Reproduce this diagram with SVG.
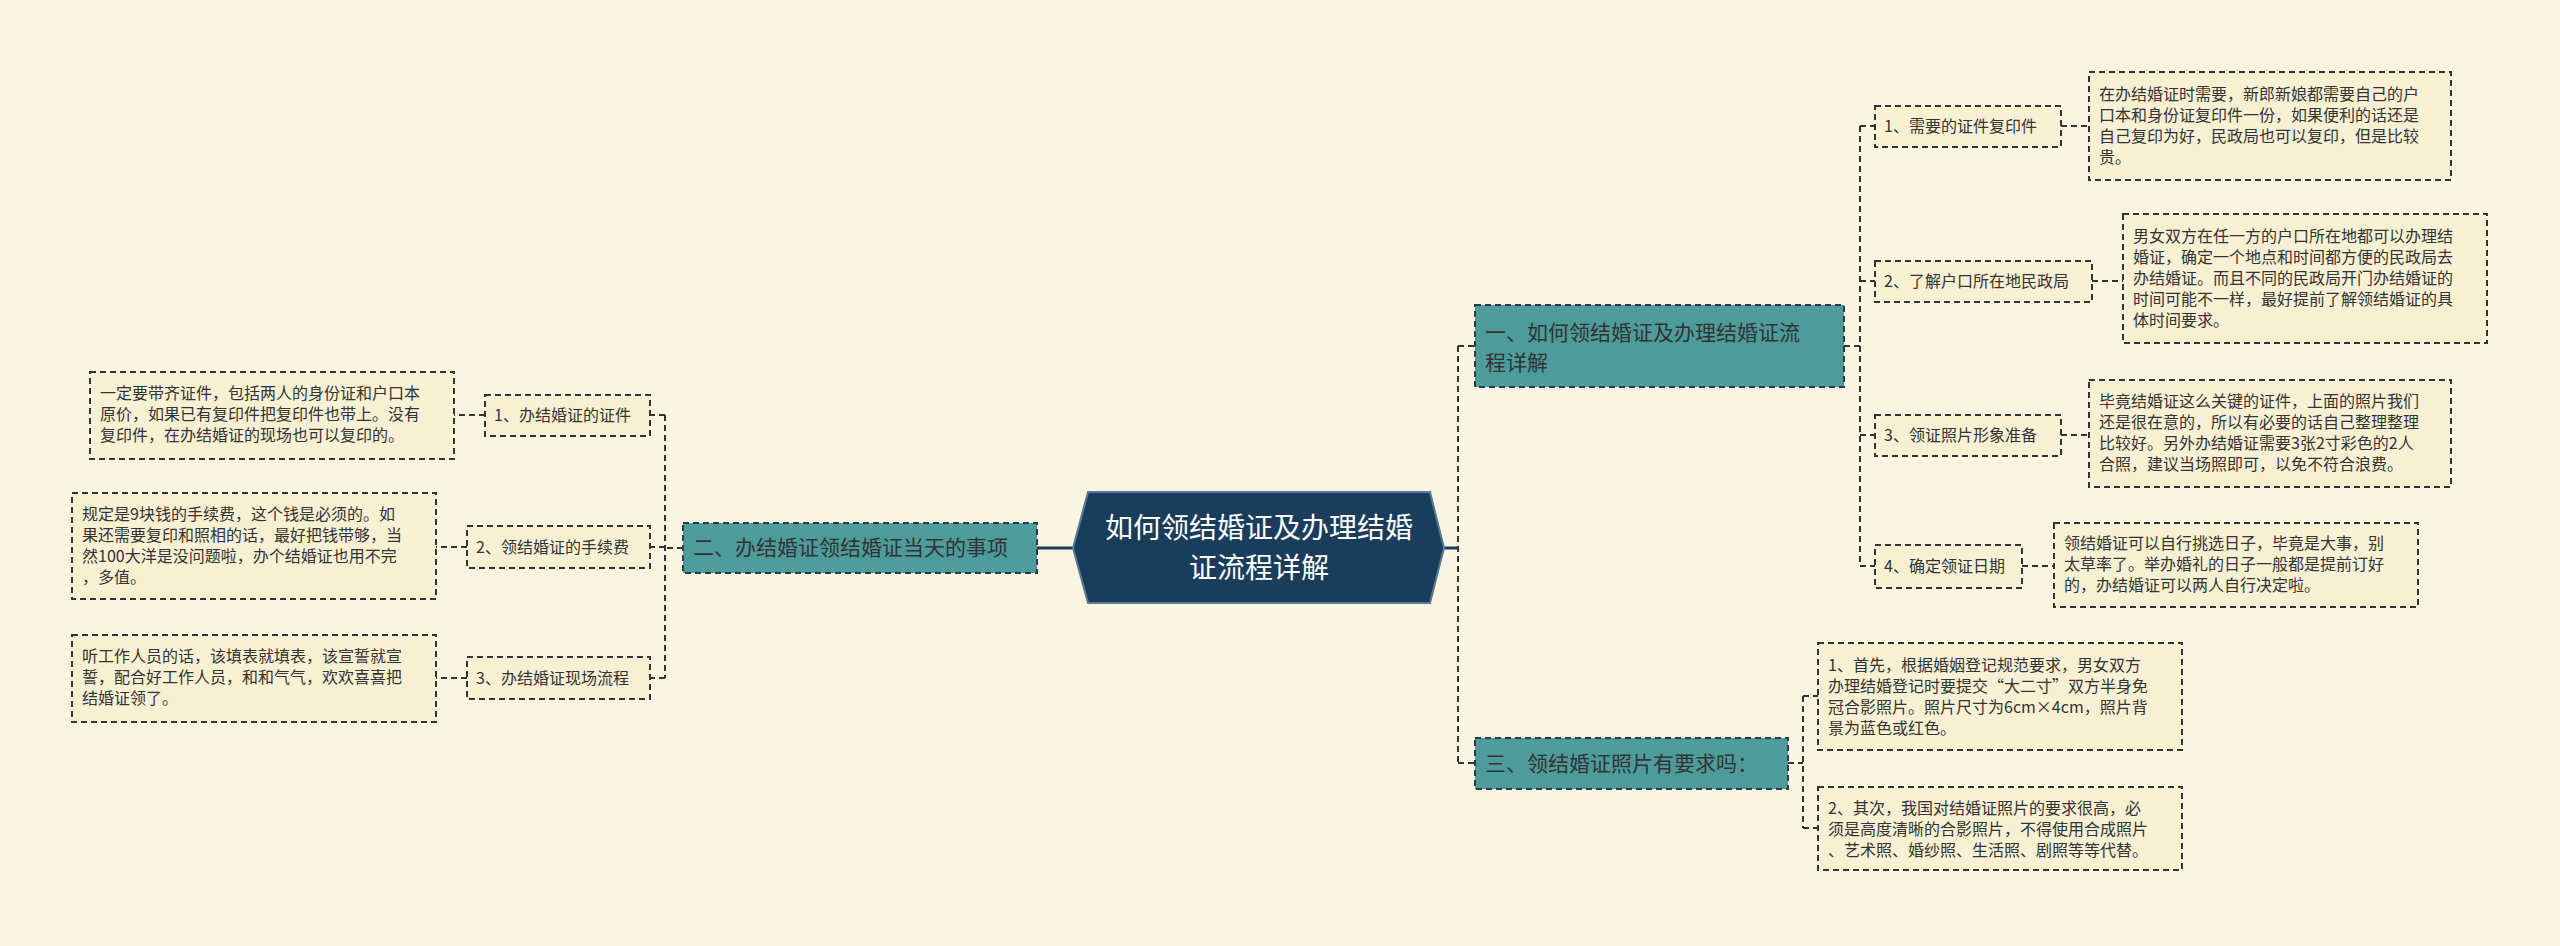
<svg xmlns="http://www.w3.org/2000/svg" width="2560" height="946" viewBox="0 0 2560 946">
<style>
text{font-family:"Noto Sans CJK SC","Noto Sans",sans-serif;fill:#333}
.leaf{fill:#f7f0d3;stroke:#333;stroke-width:2;stroke-dasharray:6 4}
.br{fill:#4d9b9b;stroke:#2b3b4b;stroke-width:2;stroke-dasharray:6 4}
.c{fill:none;stroke:#333;stroke-width:2;stroke-dasharray:6 4}
.d{font-size:16px}
.s{font-size:16px}
.b{font-size:21px}
</style>
<rect width="2560" height="946" fill="#faf5e1"/>
<g id="connectors">
<path d="M1444 548H1458" stroke="#1b3d5c" stroke-width="3"/>
<path d="M1073 548H1037" stroke="#1b3d5c" stroke-width="3"/>
<path class="c" d="M1458 346V763M1458 346H1475M1458 763H1475"/>
<path class="c" d="M1844 346H1860M1860 126V566M1860 126H1875M1860 281H1875M1860 435H1875M1860 566H1875"/>
<path class="c" d="M2061 126H2089M2092 281H2123M2061 435H2089M2022 566H2054"/>
<path class="c" d="M1788 763H1803M1803 696V828M1803 696H1818M1803 828H1818"/>
<path class="c" d="M683 548H665M665 415V678M665 415H650M665 547H650M665 678H650"/>
<path class="c" d="M485 415H454M467 547H436M467 678H436"/>
</g>
<g id="center">
<polygon points="1073,548 1088,492 1430,492 1444,548 1430,603 1088,603" fill="#1b3d5c" stroke="#5a7a95" stroke-width="2"/>
<text x="1259" y="538" text-anchor="middle" font-size="28" style="fill:#fff">如何领结婚证及办理结婚</text>
<text x="1259" y="578" text-anchor="middle" font-size="28" style="fill:#fff">证流程详解</text>
</g>
<g id="b1"><rect class="br" x="1475" y="305" width="369" height="82"/>
<text class="b" x="1485" y="340">一、如何领结婚证及办理结婚证流</text><text class="b" x="1485" y="370">程详解</text></g>
<g id="b2"><rect class="br" x="683" y="523" width="354" height="50"/>
<text class="b" x="693" y="555">二、办结婚证领结婚证当天的事项</text></g>
<g id="b3"><rect class="br" x="1475" y="738" width="313" height="51"/>
<text class="b" x="1485" y="771">三、领结婚证照片有要求吗：</text></g>
<g id="r1"><rect class="leaf" x="1875" y="106" width="186" height="41"/><text class="s" x="1884" y="132">1、需要的证件复印件</text></g>
<g id="r1d"><rect class="leaf" x="2089" y="72" width="362" height="108"/>
<text class="d" x="2099" y="100">在办结婚证时需要，新郎新娘都需要自己的户</text>
<text class="d" x="2099" y="121">口本和身份证复印件一份，如果便利的话还是</text>
<text class="d" x="2099" y="142">自己复印为好，民政局也可以复印，但是比较</text>
<text class="d" x="2099" y="163">贵。</text></g>
<g id="r2"><rect class="leaf" x="1875" y="261" width="217" height="41"/><text class="s" x="1884" y="287">2、了解户口所在地民政局</text></g>
<g id="r2d"><rect class="leaf" x="2123" y="214" width="364" height="129"/>
<text class="d" x="2133" y="242">男女双方在任一方的户口所在地都可以办理结</text>
<text class="d" x="2133" y="263">婚证，确定一个地点和时间都方便的民政局去</text>
<text class="d" x="2133" y="284">办结婚证。而且不同的民政局开门办结婚证的</text>
<text class="d" x="2133" y="305">时间可能不一样，最好提前了解领结婚证的具</text>
<text class="d" x="2133" y="326">体时间要求。</text></g>
<g id="r3"><rect class="leaf" x="1875" y="415" width="186" height="41"/><text class="s" x="1884" y="441">3、领证照片形象准备</text></g>
<g id="r3d"><rect class="leaf" x="2089" y="380" width="362" height="107"/>
<text class="d" x="2099" y="407">毕竟结婚证这么关键的证件，上面的照片我们</text>
<text class="d" x="2099" y="428">还是很在意的，所以有必要的话自己整理整理</text>
<text class="d" x="2099" y="449">比较好。另外办结婚证需要3张2寸彩色的2人</text>
<text class="d" x="2099" y="470">合照，建议当场照即可，以免不符合浪费。</text></g>
<g id="r4"><rect class="leaf" x="1875" y="545" width="147" height="43"/><text class="s" x="1884" y="572">4、确定领证日期</text></g>
<g id="r4d"><rect class="leaf" x="2054" y="523" width="364" height="84"/>
<text class="d" x="2064" y="549">领结婚证可以自行挑选日子，毕竟是大事，别</text>
<text class="d" x="2064" y="570">太草率了。举办婚礼的日子一般都是提前订好</text>
<text class="d" x="2064" y="591">的，办结婚证可以两人自行决定啦。</text></g>
<g id="p1"><rect class="leaf" x="1818" y="643" width="364" height="107"/>
<text class="d" x="1828" y="671">1、首先，根据婚姻登记规范要求，男女双方</text>
<text class="d" x="1828" y="692">办理结婚登记时要提交“大二寸”双方半身免</text>
<text class="d" x="1828" y="713">冠合影照片。照片尺寸为6cm×4cm，照片背</text>
<text class="d" x="1828" y="734">景为蓝色或红色。</text></g>
<g id="p2"><rect class="leaf" x="1818" y="787" width="364" height="83"/>
<text class="d" x="1828" y="814">2、其次，我国对结婚证照片的要求很高，必</text>
<text class="d" x="1828" y="835">须是高度清晰的合影照片，不得使用合成照片</text>
<text class="d" x="1828" y="856">、艺术照、婚纱照、生活照、剧照等等代替。</text></g>
<g id="l1"><rect class="leaf" x="485" y="395" width="165" height="41"/><text class="s" x="494" y="421">1、办结婚证的证件</text></g>
<g id="l1d"><rect class="leaf" x="90" y="372" width="364" height="87"/>
<text class="d" x="100" y="399">一定要带齐证件，包括两人的身份证和户口本</text>
<text class="d" x="100" y="420">原价，如果已有复印件把复印件也带上。没有</text>
<text class="d" x="100" y="441">复印件，在办结婚证的现场也可以复印的。</text></g>
<g id="l2"><rect class="leaf" x="467" y="526" width="183" height="42"/><text class="s" x="476" y="553">2、领结婚证的手续费</text></g>
<g id="l2d"><rect class="leaf" x="72" y="493" width="364" height="106"/>
<text class="d" x="82" y="520">规定是9块钱的手续费，这个钱是必须的。如</text>
<text class="d" x="82" y="541">果还需要复印和照相的话，最好把钱带够，当</text>
<text class="d" x="82" y="562">然100大洋是没问题啦，办个结婚证也用不完</text>
<text class="d" x="82" y="583">，多值。</text></g>
<g id="l3"><rect class="leaf" x="467" y="657" width="183" height="42"/><text class="s" x="476" y="684">3、办结婚证现场流程</text></g>
<g id="l3d"><rect class="leaf" x="72" y="635" width="364" height="87"/>
<text class="d" x="82" y="662">听工作人员的话，该填表就填表，该宣誓就宣</text>
<text class="d" x="82" y="683">誓，配合好工作人员，和和气气，欢欢喜喜把</text>
<text class="d" x="82" y="704">结婚证领了。</text></g>
</svg>
